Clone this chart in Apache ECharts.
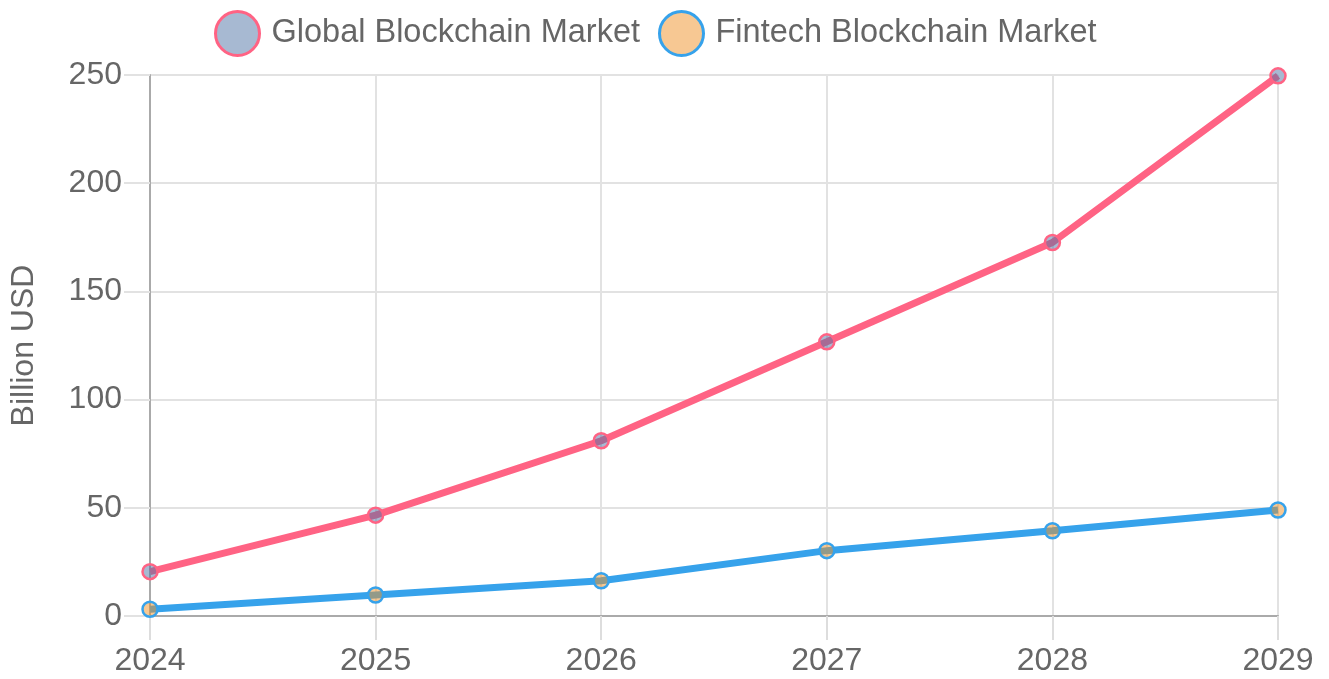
<!DOCTYPE html>
<html>
<head>
<meta charset="utf-8">
<script src="https://cdn.jsdelivr.net/npm/echarts@6/dist/echarts.min.js"></script>
<style>
  html, body { margin: 0; padding: 0; background: #fff; }
  #chart { width: 1329px; height: 679px; }
</style>
</head>
<body>
<div id="chart"></div>
<script>
// years on the x axis
var years = ['2024', '2025', '2026', '2027', '2028', '2029'];
// market size, billion USD
var globalMarket = [20.5, 46.6, 81, 126.7, 172.6, 249.6];
var fintechMarket = [3.1, 9.7, 16.3, 30.2, 39.4, 49];
var seriesNames = ['Global Blockchain Market', 'Fintech Blockchain Market'];

var font = 'Liberation Sans, Arial, Helvetica, sans-serif';
var pink = '#ff6384';
var blue = '#36a2eb';
var globalFill = 'rgba(80,115,165,0.5)';
var fintechFill = 'rgba(240,145,40,0.5)';

var myChart = echarts.init(document.getElementById('chart'));

var option = {
    animation: false,
    textStyle: { fontFamily: font },
    legend: {
        top: 5,
        left: 209,
        itemWidth: 44,
        itemHeight: 44,
        itemGap: 18,
        textStyle: { fontSize: 32.5, color: '#666', fontFamily: font, padding: [0, 0, 0, 7] },
        data: [
            { name: seriesNames[0], icon: 'circle', itemStyle: { color: globalFill, borderColor: pink, borderWidth: 3 } },
            { name: seriesNames[1], icon: 'circle', itemStyle: { color: fintechFill, borderColor: blue, borderWidth: 3 } }
        ]
    },
    grid: { left: 149, right: 51, top: 75, bottom: 63, containLabel: false },
    xAxis: {
        type: 'category',
        data: years,
        boundaryGap: false,
        axisLine: { lineStyle: { color: '#aaa', width: 2 } },
        axisTick: { show: true, length: 24, lineStyle: { color: '#ddd', width: 2 } },
        axisLabel: { fontSize: 32, color: '#666', margin: 29, fontFamily: font },
        splitLine: { show: true, lineStyle: { color: '#e2e2e2', width: 2 } }
    },
    yAxis: {
        type: 'value',
        min: 0,
        max: 250,
        interval: 50,
        name: 'Billion USD',
        nameLocation: 'middle',
        nameRotate: 90,
        nameGap: 110,
        nameTextStyle: { fontSize: 32, color: '#666', fontFamily: font },
        axisLine: { show: true, lineStyle: { color: '#aaa', width: 2 } },
        axisTick: { show: true, length: 26, lineStyle: { color: '#e2e2e2', width: 2 } },
        axisLabel: { fontSize: 32, color: '#666', margin: 28, fontFamily: font },
        splitLine: { show: true, lineStyle: { color: '#e2e2e2', width: 2 } }
    },
    series: [
        {
            name: seriesNames[0],
            type: 'line',
            data: globalMarket,
            symbol: 'circle',
            symbolSize: 15,
            lineStyle: { color: pink, width: 7 },
            itemStyle: { color: globalFill, borderColor: pink, borderWidth: 2.5 }
        },
        {
            name: seriesNames[1],
            type: 'line',
            data: fintechMarket,
            symbol: 'circle',
            symbolSize: 15,
            lineStyle: { color: blue, width: 7 },
            itemStyle: { color: fintechFill, borderColor: blue, borderWidth: 2.5 }
        }
    ]
};

myChart.setOption(option);
</script>
</body>
</html>
